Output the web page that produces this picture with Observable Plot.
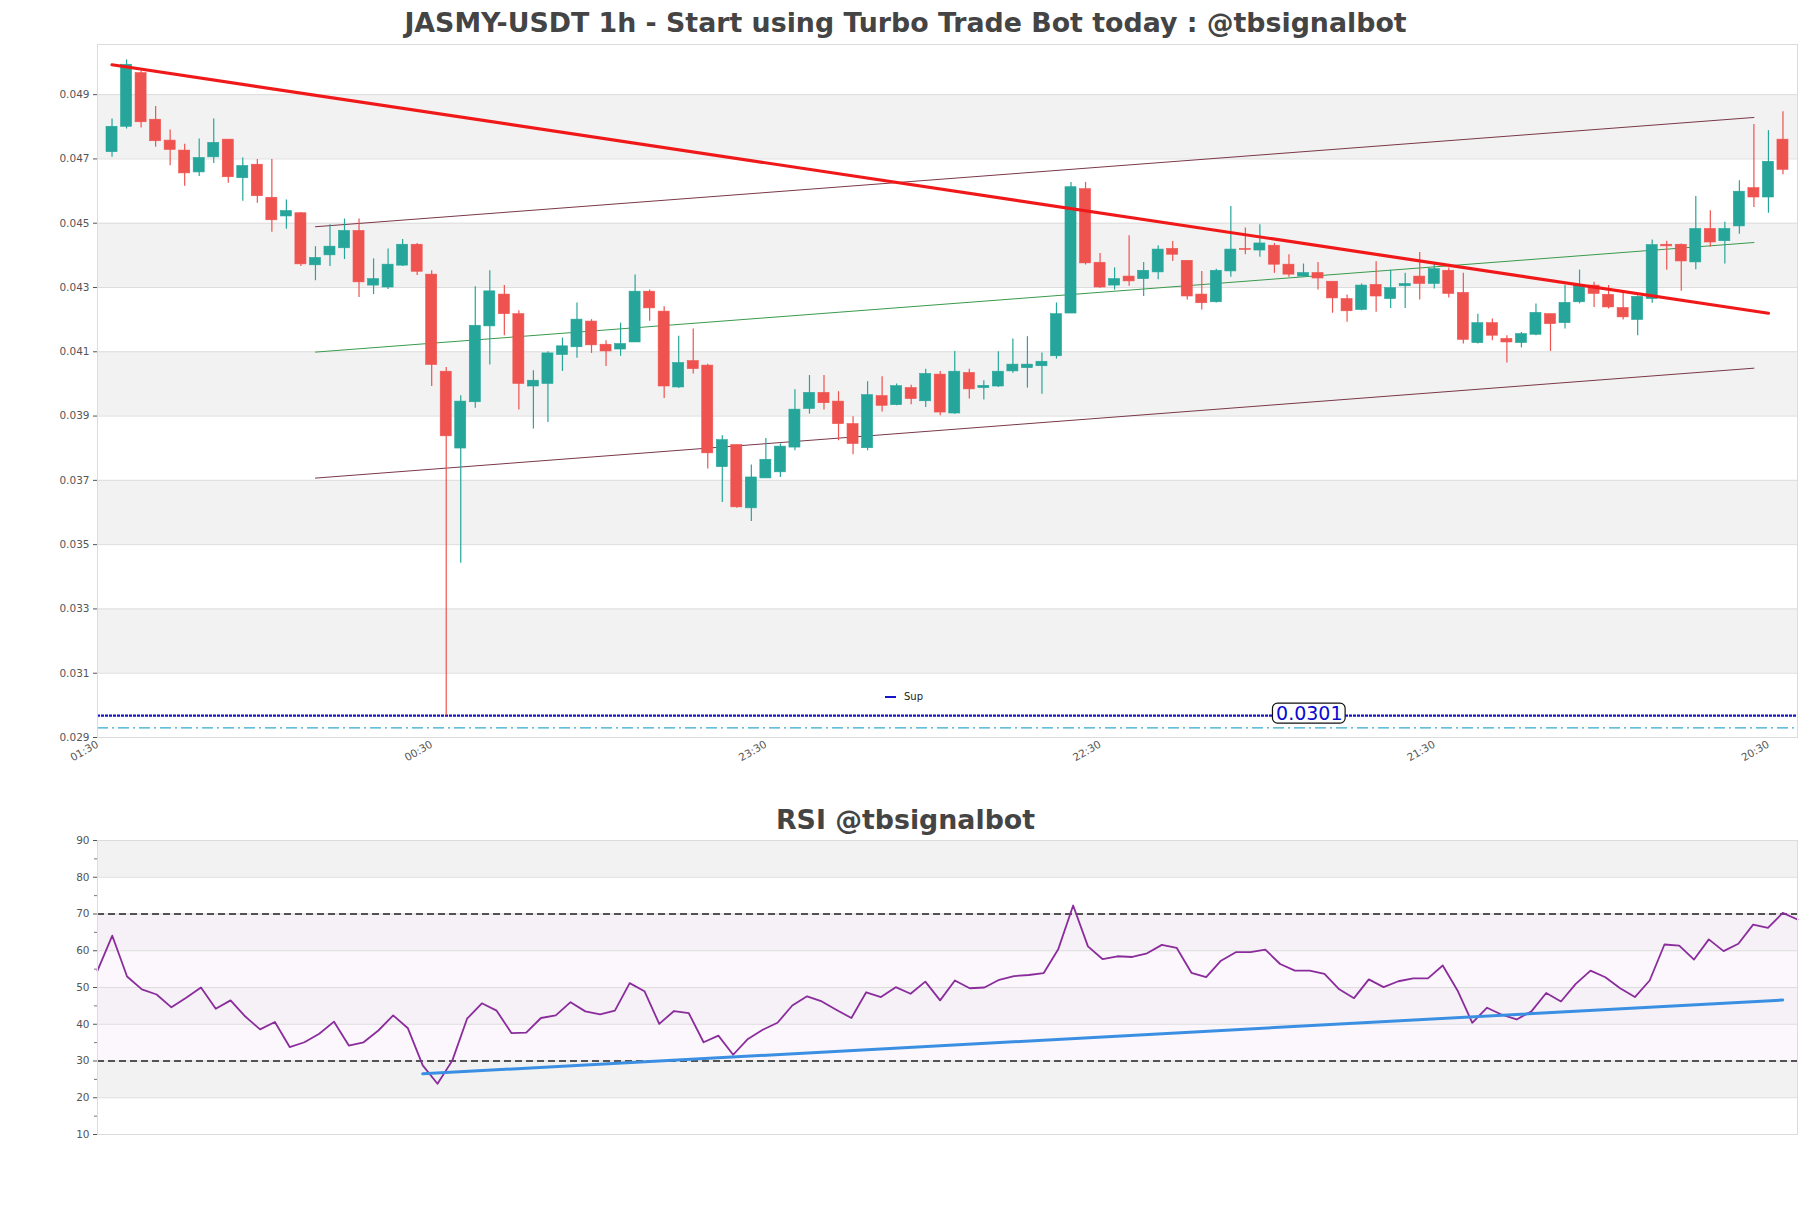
<!DOCTYPE html>
<html>
<head>
<meta charset="utf-8">
<script src="https://cdn.jsdelivr.net/npm/d3@7"></script>
<script src="https://cdn.jsdelivr.net/npm/@observablehq/plot@0.6"></script>
<style>
  html, body { margin: 0; padding: 0; background: #fff; }
  #root { position: relative; width: 1811px; height: 1208px; overflow: hidden; font-family: "DejaVu Sans", sans-serif; background: #fff; }
  .title { position: absolute; left: 0; width: 1811px; text-align: center; font-weight: bold; font-size: 26.8px; line-height: 30px; color: #444; }
  .panel { position: absolute; left: 0; }
  #legend { position: absolute; left: 885px; top: 689px; font-size: 10px; color: #222; height: 16px; line-height: 16px; }
  #legend span.sw { display: inline-block; width: 11px; height: 2px; background: #1414c8; vertical-align: middle; margin-right: 8px; }
</style>
</head>
<body>
<div id="root">
  <div class="title" style="top:8px">JASMY-USDT 1h - Start using Turbo Trade Bot today : @tbsignalbot</div>
  <div class="panel" id="mainPanel" style="top:40px"></div>
  <div id="legend"><span class="sw"></span>Sup</div>
  <div class="title" style="top:805px">RSI @tbsignalbot</div>
  <div class="panel" id="rsiPanel" style="top:836px"></div>
</div>
<script>
// ---------------- DATA ----------------
const opens = [
0.04721,0.04800,0.04967,0.04822,0.04757,0.04726,0.04658,0.04705,0.04760,0.04640,
0.04682,0.04579,0.04521,0.04531,0.04369,0.04400,0.04422,0.04476,0.04306,0.04300,
0.04368,0.04433,0.04340,0.04038,0.03799,0.03943,0.04179,0.04278,0.04217,0.03992,
0.04000,0.04090,0.04114,0.04194,0.04122,0.04107,0.04129,0.04287,0.04225,0.03989,
0.04071,0.04057,0.03741,0.03810,0.03613,0.03706,0.03725,0.03802,0.03922,0.03972,
0.03945,0.03875,0.03800,0.03962,0.03934,0.03987,0.03946,0.04029,0.03908,0.04034,
0.03987,0.03992,0.04039,0.04049,0.04055,0.04086,0.04219,0.04606,0.04377,0.04306,
0.04334,0.04326,0.04347,0.04420,0.04383,0.04278,0.04254,0.04350,0.04420,0.04415,
0.04430,0.04371,0.04334,0.04345,0.04318,0.04264,0.04230,0.04308,0.04264,0.04304,
0.04334,0.04311,0.04352,0.04283,0.04127,0.04189,0.04140,0.04127,0.04153,0.04217,
0.04189,0.04254,0.04306,0.04277,0.04236,0.04199,0.04264,0.04433,0.04433,0.04378,
0.04482,0.04444,0.04490,0.04609,0.04580,0.04760];
const highs = [
0.04824,0.05008,0.04973,0.04863,0.04790,0.04746,0.04762,0.04824,0.04760,0.04703,
0.04698,0.04698,0.04572,0.04533,0.04427,0.04495,0.04513,0.04513,0.04389,0.04420,
0.04449,0.04437,0.04352,0.04051,0.03963,0.04302,0.04352,0.04306,0.04228,0.04041,
0.04100,0.04143,0.04252,0.04200,0.04134,0.04189,0.04339,0.04292,0.04240,0.04148,
0.04171,0.04061,0.03839,0.03810,0.03748,0.03830,0.03813,0.03982,0.04026,0.04026,
0.03976,0.03898,0.04007,0.04022,0.04000,0.03996,0.04046,0.04039,0.04101,0.04046,
0.04010,0.04100,0.04140,0.04147,0.04096,0.04252,0.04627,0.04627,0.04406,0.04361,
0.04461,0.04378,0.04430,0.04443,0.04383,0.04350,0.04357,0.04552,0.04485,0.04495,
0.04437,0.04402,0.04373,0.04378,0.04318,0.04277,0.04311,0.04380,0.04354,0.04344,
0.04409,0.04373,0.04361,0.04344,0.04217,0.04202,0.04150,0.04160,0.04249,0.04217,
0.04306,0.04354,0.04316,0.04306,0.04288,0.04274,0.04448,0.04444,0.04435,0.04583,
0.04539,0.04503,0.04632,0.04807,0.04788,0.04847];
const lows = [
0.04705,0.04793,0.04796,0.04736,0.04679,0.04615,0.04645,0.04686,0.04624,0.04568,
0.04562,0.04472,0.04481,0.04365,0.04321,0.04365,0.04387,0.04269,0.04278,0.04294,
0.04365,0.04337,0.03992,0.02968,0.03442,0.03924,0.04059,0.04150,0.03919,0.03860,
0.03880,0.04039,0.04080,0.04095,0.04054,0.04086,0.04129,0.04195,0.03955,0.03986,
0.04031,0.03735,0.03631,0.03613,0.03572,0.03706,0.03709,0.03792,0.03906,0.03919,
0.03823,0.03780,0.03792,0.03913,0.03932,0.03935,0.03927,0.03901,0.03906,0.03953,
0.03950,0.03989,0.04033,0.03987,0.03968,0.04077,0.04219,0.04370,0.04298,0.04292,
0.04304,0.04272,0.04324,0.04381,0.04261,0.04230,0.04252,0.04332,0.04402,0.04394,
0.04344,0.04332,0.04332,0.04292,0.04220,0.04192,0.04228,0.04223,0.04235,0.04235,
0.04261,0.04295,0.04267,0.04124,0.04124,0.04134,0.04065,0.04112,0.04150,0.04101,
0.04171,0.04249,0.04238,0.04233,0.04199,0.04150,0.04251,0.04354,0.04288,0.04355,
0.04425,0.04373,0.04466,0.04549,0.04531,0.04651];
const closes = [
0.04800,0.04993,0.04814,0.04755,0.04728,0.04655,0.04703,0.04750,0.04643,0.04678,
0.04584,0.04509,0.04538,0.04372,0.04392,0.04427,0.04476,0.04316,0.04326,0.04371,
0.04433,0.04349,0.04059,0.03837,0.03945,0.04181,0.04288,0.04217,0.04000,0.04010,
0.04095,0.04117,0.04200,0.04120,0.04101,0.04124,0.04287,0.04235,0.03992,0.04065,
0.04046,0.03784,0.03825,0.03616,0.03709,0.03764,0.03805,0.03920,0.03972,0.03940,
0.03875,0.03813,0.03965,0.03932,0.03993,0.03953,0.04031,0.03911,0.04038,0.03983,
0.03994,0.04038,0.04060,0.04060,0.04069,0.04217,0.04612,0.04375,0.04300,0.04326,
0.04319,0.04352,0.04418,0.04402,0.04272,0.04251,0.04352,0.04418,0.04417,0.04437,
0.04371,0.04340,0.04345,0.04328,0.04266,0.04226,0.04306,0.04272,0.04298,0.04311,
0.04311,0.04357,0.04280,0.04137,0.04189,0.04150,0.04129,0.04155,0.04221,0.04186,
0.04252,0.04306,0.04280,0.04238,0.04207,0.04271,0.04432,0.04428,0.04381,0.04482,
0.04440,0.04482,0.04598,0.04580,0.04691,0.04666];

const rsiValues = [
54.6,64.1,53.0,49.5,48.1,44.6,47.2,50.0,44.2,46.5,
42.1,38.6,40.6,33.8,35.1,37.4,40.7,34.2,35.1,38.3,
42.4,38.9,28.8,23.8,30.1,41.5,45.7,43.7,37.6,37.7,
41.7,42.4,46.0,43.5,42.7,43.7,51.2,49.0,40.1,43.6,
43.0,35.1,36.9,31.7,36.0,38.5,40.4,45.1,47.6,46.2,
43.9,41.7,48.7,47.4,50.1,48.3,51.6,46.5,51.9,49.8,
50.0,52.1,53.1,53.4,53.9,60.5,72.3,61.2,57.7,58.5,
58.3,59.3,61.6,60.8,54.0,52.8,57.3,59.6,59.6,60.3,
56.4,54.6,54.6,53.7,49.5,47.1,52.2,50.1,51.7,52.5,
52.5,56.0,49.2,40.4,44.5,42.6,41.3,43.5,48.5,46.2,
51.0,54.6,52.8,49.8,47.4,51.9,61.7,61.4,57.6,63.1,
59.9,61.9,67.1,66.2,70.3,68.5];

// trend lines (endpoints: candle index, price)
const resistX = [1, 115];
const resistY = [0.04993, 0.04220];
const channelX = [15, 114];
const channelUpperY = [0.04489, 0.04829];
const channelMidY = [0.04099, 0.04440];
const channelLowerY = [0.03707, 0.04049];
const rsiTrendX = [23, 115];
const rsiTrendY = [26.5, 46.6];

// levels & labels
const supLevel = 0.02968;
const supLabel = "0.0301";
const supLabelX = 83.4;
const cyanLevel = 0.02930;

// axes
const xDomain = [0, 117];
const rsiXDomain = [1, 116];
const yDomain = [0.029, 0.05056];
const rsiDomain = [10, 90];
const priceTicks = [0.029,0.031,0.033,0.035,0.037,0.039,0.041,0.043,0.045,0.047,0.049];
const bandLo = [0.031,0.035,0.039,0.043,0.047];
const bandHi = [0.033,0.037,0.041,0.045,0.049];
const timeTicks = [0, 23, 46, 69, 92, 115];
const timeLabels = ["01:30","00:30","23:30","22:30","21:30","20:30"];
const rsiTicks = [10,20,30,40,50,60,70,80,90];
const rsiMinor = [15,25,35,45,55,65,75,85];
const rsiBandLo = [20,40,60,80];
const rsiBandHi = [30,50,70,90];
const rsiLevels = [30,70];
const rsiZone = [30,70];

// ---------------- BUILD ----------------
const UP = "#26a69a", DOWN = "#ef5350";
const candles = opens.map((o, k) => ({
  i: k + 1, open: o, high: highs[k], low: lows[k], close: closes[k],
  color: closes[k] >= o ? UP : DOWN
}));
const bands = bandLo.map((lo, k) => ({lo, hi: bandHi[k]}));
const rsiBands = rsiBandLo.map((lo, k) => ({lo, hi: rsiBandHi[k]}));
const pts = (xs, ys) => xs.map((x, k) => ({x, y: ys[k]}));
const rsiData = rsiValues.map((v, k) => ({i: k + 1, v}));

const baseStyle = {fontFamily: "DejaVu Sans, sans-serif", fontSize: "10.5px", background: "#fff", color: "#444", overflow: "visible"};

const main = Plot.plot({
  width: 1811, height: 757,
  marginTop: 4, marginBottom: 60, marginLeft: 97, marginRight: 14,
  style: baseStyle,
  x: {domain: xDomain, label: null},
  y: {domain: yDomain, label: null},
  marks: [
    Plot.rect(bands, {x1: xDomain[0], x2: xDomain[1], y1: "lo", y2: "hi", fill: "#f2f2f2"}),
    Plot.ruleY(priceTicks, {stroke: "#dddddd", strokeWidth: 1}),
    Plot.ruleY([cyanLevel], {stroke: "#36a9cf", strokeWidth: 1.3, strokeDasharray: "11,4,2,4"}),
    Plot.ruleY([supLevel], {stroke: "#1414c8", strokeWidth: 2.2, strokeDasharray: "3,1"}),
    Plot.line(pts(channelX, channelUpperY), {x: "x", y: "y", stroke: "#7a3848", strokeWidth: 1}),
    Plot.line(pts(channelX, channelLowerY), {x: "x", y: "y", stroke: "#7a3848", strokeWidth: 1}),
    Plot.line(pts(channelX, channelMidY), {x: "x", y: "y", stroke: "#3a9a4c", strokeWidth: 1}),
    Plot.ruleX(candles, {x: "i", y1: "low", y2: "high", stroke: "color", strokeWidth: 1.2}),
    Plot.rect(candles, {x1: d => d.i - 0.38, x2: d => d.i + 0.38, y1: "open", y2: "close", fill: "color", stroke: "color", strokeWidth: 0.6}),
    Plot.line(pts(resistX, resistY), {x: "x", y: "y", stroke: "#f01818", strokeWidth: 3.2}),
    Plot.rect([supLabel], {x1: supLabelX - 2.5, x2: supLabelX + 2.5, y1: supLevel, y2: supLevel, insetTop: -12, insetBottom: -8, rx: 5, fill: "#fff", stroke: "#111", strokeWidth: 1.2}),
    Plot.text([supLabel], {x: supLabelX, y: supLevel, dy: -2, text: d => d, fill: "#0a0ad0", fontSize: 19}),
    Plot.frame({stroke: "#dcdcdc"}),
    Plot.axisY(priceTicks, {tickFormat: d3.format(".3f"), tickSize: 4, tickPadding: 4, color: "#555"}),
    Plot.axisX(timeTicks, {tickFormat: d => timeLabels[timeTicks.indexOf(d)], tickRotate: -30, tickSize: 0, tickPadding: 6, color: "#555"})
  ]
});
document.getElementById("mainPanel").append(main);

const rsiPlot = Plot.plot({
  width: 1811, height: 330,
  marginTop: 4, marginBottom: 32, marginLeft: 97, marginRight: 14,
  style: baseStyle,
  x: {domain: rsiXDomain, axis: null},
  y: {domain: rsiDomain, label: null},
  marks: [
    Plot.rect(rsiBands, {x1: rsiXDomain[0], x2: rsiXDomain[1], y1: "lo", y2: "hi", fill: "#f2f2f2"}),
    Plot.rect([rsiZone], {x1: rsiXDomain[0], x2: rsiXDomain[1], y1: d => d[0], y2: d => d[1], fill: "#f7f0fa", fillOpacity: 0.5, ariaLabel: "hatch"}),
    Plot.ruleY(rsiTicks, {stroke: "#dddddd"}),
    Plot.ruleY(rsiLevels, {stroke: "#222", strokeDasharray: "7,4", strokeWidth: 1.3}),
    Plot.line(rsiData, {x: "i", y: "v", stroke: "#8b2c9c", strokeWidth: 1.8}),
    Plot.line(pts(rsiTrendX, rsiTrendY), {x: "x", y: "y", stroke: "#3b8fe3", strokeWidth: 3}),
    Plot.frame({stroke: "#dcdcdc"}),
    Plot.axisY(rsiTicks, {tickSize: 4, tickPadding: 4, color: "#555"}),
    Plot.axisY(rsiMinor, {tickSize: 3, tickFormat: () => "", color: "#777"})
  ]
});
document.getElementById("rsiPanel").append(rsiPlot);

// crosshatch pattern for the RSI 30-70 zone
const svgSel = d3.select(rsiPlot);
const pat = svgSel.insert("defs", ":first-child").append("pattern")
  .attr("id", "rsiHatch").attr("patternUnits", "userSpaceOnUse")
  .attr("width", 9).attr("height", 9);
pat.append("rect").attr("width", 9).attr("height", 9).attr("fill", "#f6eefa").attr("opacity", 0.45);
pat.append("path").attr("d", "M0,0L9,9M9,0L0,9M-1,8L1,10M8,-1L10,1")
  .attr("stroke", "#b9a2cc").attr("stroke-width", 0.7).attr("fill", "none");
svgSel.selectAll('g[aria-label="hatch"]').attr("fill", "url(#rsiHatch)").attr("fill-opacity", 0.7);
svgSel.selectAll('g[aria-label="hatch"] rect').attr("fill", "url(#rsiHatch)");
</script>
</body>
</html>
